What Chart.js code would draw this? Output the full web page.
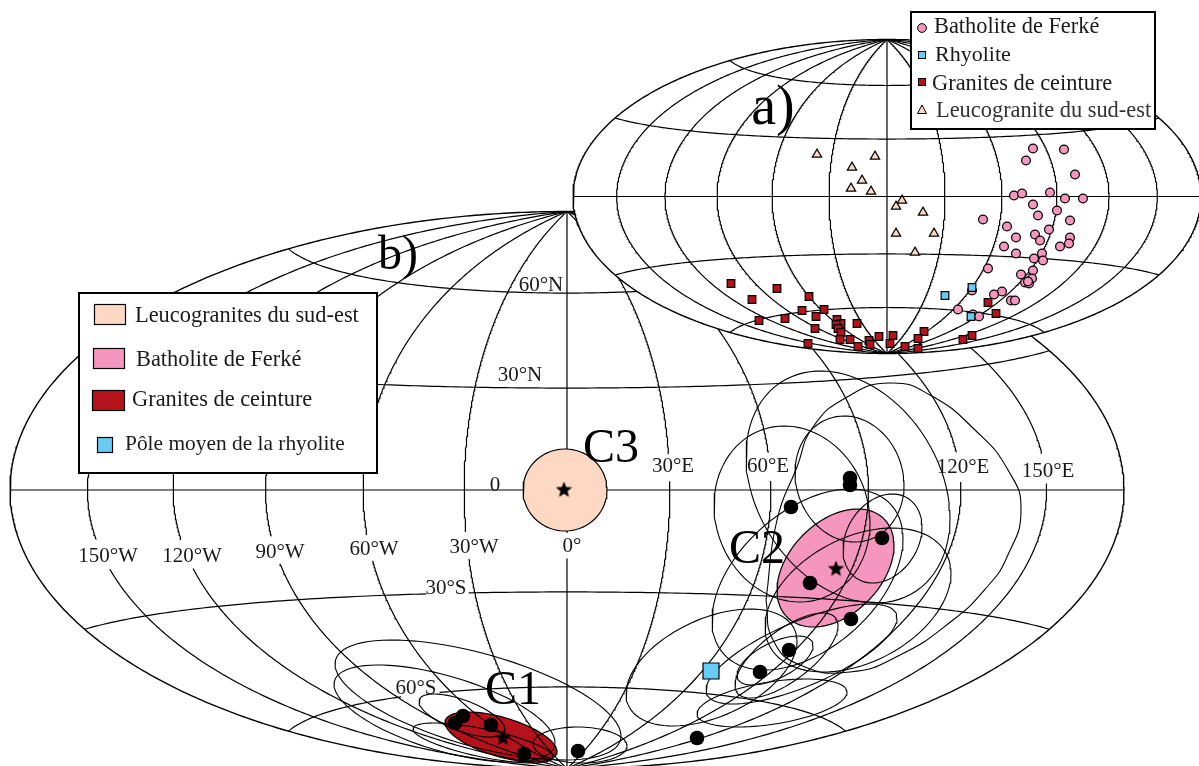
<!DOCTYPE html>
<html>
<head>
<meta charset="utf-8">
<style>
  html, body { margin: 0; padding: 0; background: #fff; }
  canvas { display: block; }
</style>
<script src="https://cdn.jsdelivr.net/npm/chart.js@4"></script>
</head>
<body>
<canvas id="poleChart" width="1199" height="766"></canvas>
<script>
// Panel a): virtual poles, map units from the centre of the projection
const ferkePoles = [
  [146, 48], [177, 47], [139, 36], [188, 22], [127, 1], [135, 3], [163, 4], [178, -2], [196, -2],
  [146, -8], [170, -14], [151, -19], [96, -23], [183, -24], [120, -30], [162, -33], [129, -41],
  [148, -38], [153, -44], [183, -41], [182, -47], [173, -50], [117, -50], [129, -57], [155, -57],
  [147, -62], [156, -64], [101, -72], [146, -74], [134, -78], [145, -82], [138, -86], [142, -87],
  [141, -85], [115, -95], [107, -98], [85, -94], [124, -104], [128, -104], [71, -113], [86, -118],
  [92, -120],
];
const rhyolitePoles = [[85, -91], [58, -99], [84, -120]];
const beltPoles = [
  [101, -106], [109, -117], [37, -135], [85, -139], [76, -143], [31, -142], [6, -139], [3, -147],
  [18, -150], [31, -152], [-156, -87], [-110, -92], [-135, -103], [-78, -100], [-63, -113],
  [-85, -114], [-71, -120], [-128, -124], [-102, -122], [-50, -123], [-46, -127], [-51, -128],
  [-30, -127], [-72, -132], [-49, -132], [-46, -136], [-8, -140], [-47, -143], [-37, -143],
  [-18, -144], [-79, -147], [-29, -150], [-17, -148],
];
const leucoPoles = [
  [-70, 42], [-12, 40], [-35, 29], [-25, 16], [-36, 8], [-16, 5], [15, -4], [9, -10], [36, -16],
  [9, -37], [47, -37], [28, -56],
];

// Panel b): site means and group means
const siteMeans = [
  [-112, -233], [-104, -226], [-76, -235], [-43, -264], [11, -261],
  [224, -17], [315, -48], [243, -93], [284, -129], [222, -160], [193, -182], [130, -248],
  [283, 12], [283, 5],
];
const groupMeans = [[269, -79], [-64, -248], [-3, 0]];
const rhyoliteMean = [[144, -181]];

// Confidence ovals: centre x, centre y, half width, half height, tilt
const ovalC3 = [-2, 0, 42, 41, 0];
const ovalC2 = [268.5, -78, 58.5, 59, 0.38];
const ovalC1 = [-66, -247, 56, 25, -0.58];
const siteOvals = [
  [281, 3, 102, 116, -0.27],
  [282.5, 11, 54.5, 63, -0.1],
  [225, -24, 78, 88, -0.1],
  [315.5, -48.5, 39.5, 44.5, 0.25],
  [240.5, -89.5, 95.5, 90.5, 0.45],
  [144.5, -177.5, 85.5, 58.5, 0.45],
  [208, -170.5, 38, 24.5, 0.6],
  [219.5, -165.5, 51.5, 42.5, 0.7],
  [205, -213, 75, 24, 0.45],
  [234.5, -164, 95.5, 50, 0.72],
  [291, -110, 93, 72, 0.37],
  [-89, -210, 143, 60, -0.6],
  [-122.5, -223.5, 110.5, 48.5, -0.6],
  [-105, -225.5, 43, 21.5, -0.65],
  [-84, -253, 70, 20, -0.7],
  [13, -255, 47, 18, -0.05],
];
// the widest oval is not a clean ellipse, so it is read point by point
const wideOval = [
  [199, -110], [210, -30], [230, 23], [246, 63], [280, 93], [323, 107], [363, 95], [408, 60],
  [441, 20], [454, -20], [440, -67], [420, -97], [386, -130], [333, -165], [283, -182],
  [233, -175], [206, -150], [199, -110],
];

// Graticule
const meridianLons = [-150, -120, -90, -60, -30, 0, 30, 60, 90, 120, 150];
const parallelLats = [-60, -30, 0, 30, 60];
// where the meridians of b) stop around their label: lon -> [from lat, to lat]
const meridianGaps = {
  "-150": [-18.5, -11.5], "-120": [-20, -12.5], "-90": [-20, -12.5], "-60": [-20, -12.5],
  "-30": [-20, -12], 0: [-20, -12.5], 30: [2.5, 10.5], 60: [2.5, 10.5], 120: [2, 9.5], 150: [1.5, 8.5],
};
const parallelGaps = { "-30": [-46, -32], "-60": [-88, -66] };

const mapLabels = [
  ["60°N", -26, 205], ["30°N", -47, 115], ["0", -72, 5], ["0°", 5, -56], ["30°W", -93, -57],
  ["60°W", -193, -59], ["90°W", -287, -62], ["120°W", -375, -66], ["150°W", -459, -66],
  ["30°E", 106, 24], ["60°E", 201, 24], ["120°E", 396, 23], ["150°E", 481, 19],
  ["30°S", -121, -98], ["60°S", -151, -198],
];
const groupLabels = [["C3", 44, 41], ["C2", 190, -60], ["C1", -54, -201], ["b)", -169, 234]];

const colors = { leuco: "#fdd9c4", ferke: "#f596be", belt: "#b5121b", rhyolite: "#66ccf5" };
const sizeA = 314;
const sizeB = 557;

function hammer(lon, lat, size) {
  const l = (lon * Math.PI) / 180;
  const p = (lat * Math.PI) / 180;
  const d = Math.sqrt(1 + Math.cos(p) * Math.cos(l / 2));
  return {
    x: (size * Math.cos(p) * Math.sin(l / 2)) / d,
    y: ((size / 2) * Math.sin(p)) / d,
  };
}

function meridian(lon, size, gap) {
  const pts = [];
  for (let lat = -90; lat <= 90; lat += 0.5) {
    if (gap && lat > gap[0] && lat < gap[1]) pts.push({ x: null, y: null });
    else pts.push(hammer(lon, lat, size));
  }
  return pts;
}

function parallel(lat, size, gap) {
  const pts = [];
  for (let lon = -180; lon <= 180; lon += 2) {
    if (gap && lon > gap[0] && lon < gap[1]) pts.push({ x: null, y: null });
    else pts.push(hammer(lon, lat, size));
  }
  return pts;
}

function limb(size) {
  return meridian(180, size).concat(meridian(-180, size).reverse());
}

function oval([cx, cy, w, h, tilt]) {
  const phi = Math.acos(tilt);
  const pts = [];
  for (let deg = 0; deg <= 360; deg += 4) {
    const t = (deg * Math.PI) / 180;
    pts.push({ x: cx + w * Math.cos(t), y: cy + h * Math.cos(t - phi) });
  }
  return pts;
}

const toPoints = (list) => list.map(([x, y]) => ({ x, y }));

function starImage(size) {
  const c = document.createElement("canvas");
  c.width = size;
  c.height = size;
  const g = c.getContext("2d");
  g.beginPath();
  for (let i = 0; i < 10; i++) {
    const r = i % 2 ? size * 0.22 : size / 2;
    const a = -Math.PI / 2 + (i * Math.PI) / 5;
    g.lineTo(size / 2 + r * Math.cos(a), size / 2 + r * Math.sin(a));
  }
  g.closePath();
  g.fillStyle = "#000";
  g.fill();
  return c;
}

const datasets = [];
// first pushed is drawn first, so the later ones end up on top
function add(panel, data, opts) {
  datasets.push(Object.assign({
    data,
    xAxisID: "x" + panel,
    yAxisID: "y" + panel,
    order: -datasets.length,
    borderColor: "#000",
    borderWidth: 1.2,
    pointRadius: 0,
    fill: false,
    tension: 0,
  }, opts));
}
const addMarks = (panel, list, style, radius, fillColor, borderWidth) =>
  add(panel, toPoints(list), {
    showLine: false,
    pointStyle: style,
    pointRadius: radius,
    pointBackgroundColor: fillColor,
    pointBorderColor: "#000",
    pointBorderWidth: borderWidth,
  });

// b) fills go first, the grid and ovals run over them
add("B", oval(ovalC2), { fill: "shape", backgroundColor: colors.ferke });
add("B", oval(ovalC1), { fill: "shape", backgroundColor: colors.belt });
meridianLons.forEach((lon) => add("B", meridian(lon, sizeB, meridianGaps[lon])));
parallelLats.forEach((lat) => add("B", parallel(lat, sizeB, parallelGaps[lat])));
add("B", limb(sizeB), { borderWidth: 1.4 });
add("B", oval(ovalC3), { fill: "shape", backgroundColor: colors.leuco });
siteOvals.forEach((o) => add("B", oval(o), { borderWidth: 1.1 }));
add("B", toPoints(wideOval), { borderWidth: 1.1, tension: 0.5 });
addMarks("B", siteMeans, "circle", 7.3, "#000", 0);
addMarks("B", rhyoliteMean, "rect", 11.3, colors.rhyolite, 1.2);
addMarks("B", groupMeans, starImage(17), 8, "#000", 0);

// a) sits on top of b) with a white background
add("A", limb(sizeA), { fill: "shape", backgroundColor: "#fff", borderWidth: 1.4 });
meridianLons.forEach((lon) => add("A", meridian(lon, sizeA)));
parallelLats.forEach((lat) => add("A", parallel(lat, sizeA)));
addMarks("A", ferkePoles, "circle", 4.4, colors.ferke, 1.2);
addMarks("A", beltPoles, "rect", 5.4, colors.belt, 1.2);
addMarks("A", leucoPoles, "triangle", 5.4, colors.leuco, 1.2);
addMarks("A", rhyolitePoles, "rect", 5.4, colors.rhyolite, 1.2);

const SERIF = '"Liberation Serif", serif';

function text(ctx, str, x, y, size, align, color) {
  ctx.font = size + "px " + SERIF;
  ctx.textAlign = align || "left";
  ctx.fillStyle = color || "#1a1a1a";
  ctx.fillText(str, x, y);
}

function box(ctx, x, y, w, h, fill, lw) {
  ctx.fillStyle = fill;
  ctx.fillRect(x, y, w, h);
  ctx.lineWidth = lw;
  ctx.strokeStyle = "#000";
  ctx.strokeRect(x, y, w, h);
}

const labelsAndLegends = {
  id: "labelsAndLegends",
  afterDatasetsDraw(chart) {
    const { ctx, scales } = chart;
    ctx.save();
    ctx.textBaseline = "middle";
    mapLabels.forEach(([str, x, y]) =>
      text(ctx, str, scales.xB.getPixelForValue(x), scales.yB.getPixelForValue(y), 21, "center"));
    groupLabels.forEach(([str, x, y]) =>
      text(ctx, str, scales.xB.getPixelForValue(x), scales.yB.getPixelForValue(y), 48, "center", "#000"));
    text(ctx, "a)", scales.xA.getPixelForValue(-114), scales.yA.getPixelForValue(87), 56, "center", "#000");

    ctx.textBaseline = "alphabetic";
    // legend of a)
    box(ctx, 911, 12, 244, 117, "#fff", 2);
    ctx.lineWidth = 1;
    ctx.beginPath();
    ctx.arc(922, 28, 4.4, 0, Math.PI * 2);
    ctx.fillStyle = colors.ferke;
    ctx.fill();
    ctx.stroke();
    box(ctx, 918.5, 51.5, 7, 7, colors.rhyolite, 1);
    box(ctx, 918.5, 78.5, 7, 7, colors.belt, 1);
    ctx.beginPath();
    ctx.moveTo(922, 105);
    ctx.lineTo(926.5, 113.5);
    ctx.lineTo(917.5, 113.5);
    ctx.closePath();
    ctx.fillStyle = colors.leuco;
    ctx.fill();
    ctx.stroke();
    text(ctx, "Batholite de Ferké", 934, 33, 22.4);
    text(ctx, "Rhyolite", 935, 61, 22);
    text(ctx, "Granites de ceinture", 932, 90, 22.4);
    text(ctx, "Leucogranite du sud-est", 936, 117, 22.4, "left", "#333");

    // legend of b)
    box(ctx, 79, 293, 298, 180, "#fff", 2);
    box(ctx, 94.5, 304.5, 31, 20, colors.leuco, 1.2);
    box(ctx, 93.5, 348.5, 31, 20, colors.ferke, 1.2);
    box(ctx, 92.5, 390.5, 32, 20, colors.belt, 1.2);
    box(ctx, 97.5, 437.5, 15, 15, colors.rhyolite, 1.2);
    text(ctx, "Leucogranites du sud-est", 135, 322, 22.4);
    text(ctx, "Batholite de Ferké", 136, 366, 22.4);
    text(ctx, "Granites de ceinture", 132, 406, 22.4);
    text(ctx, "Pôle moyen de la rhyolite", 125, 450, 21.4);
    ctx.restore();
  },
};

const hidden = (min, max) => ({ type: "linear", display: false, min, max });

new Chart(document.getElementById("poleChart"), {
  type: "line",
  data: { datasets },
  options: {
    responsive: false,
    animation: false,
    parsing: { xAxisKey: "x", yAxisKey: "y" },
    layout: { padding: 0, autoPadding: false },
    events: [],
    plugins: { legend: { display: false }, tooltip: { enabled: false } },
    scales: {
      xA: hidden(-887, 312),
      yA: hidden(-569.5, 196.5),
      xB: hidden(-567, 632),
      yB: hidden(-276, 490),
    },
  },
  plugins: [labelsAndLegends],
});
</script>
</body>
</html>
